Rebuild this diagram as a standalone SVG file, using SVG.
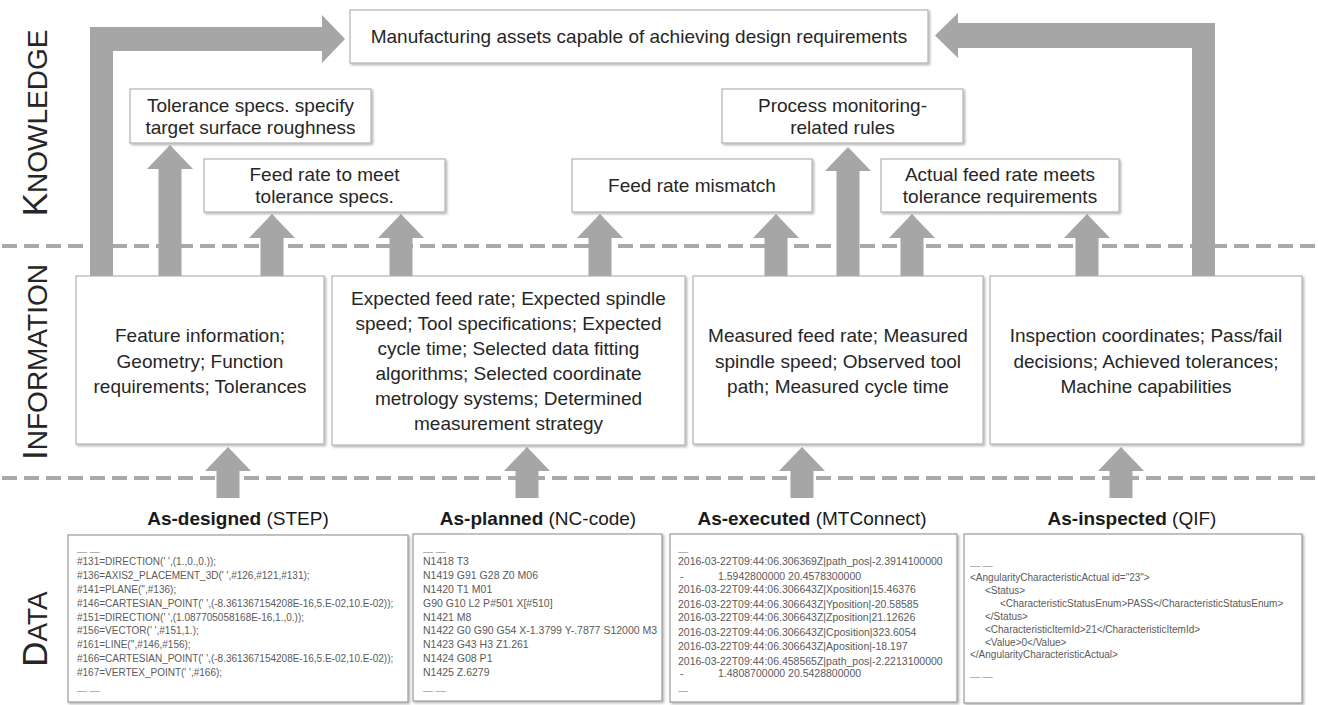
<svg xmlns="http://www.w3.org/2000/svg" width="1318" height="705" viewBox="0 0 1318 705">
<defs>
<filter id="sh" x="-5%" y="-10%" width="112%" height="125%"><feDropShadow dx="1.5" dy="1.5" stdDeviation="1" flood-color="#000" flood-opacity="0.3"/></filter>
</defs>
<style>
.dash{stroke:#a9a9a9;stroke-width:4;stroke-dasharray:15 7;fill:none}
.arr{fill:#a6a6a6}
.box{fill:#fff;stroke:#b3b3b3;stroke-width:1.2;filter:url(#sh)}
.dbox{fill:#fff;stroke:#9a9a9a;stroke-width:1.2;filter:url(#sh)}
.t{font-family:"Liberation Sans",Arial,sans-serif;font-size:19px;fill:#262626;text-anchor:middle}
.lab{font-family:"Liberation Sans",Arial,sans-serif;font-size:19px;fill:#1a1a1a;text-anchor:middle}
.lab .b{font-weight:bold}
.side{font-family:"Liberation Sans",Arial,sans-serif;font-size:35px;fill:#262626;text-anchor:middle}
.side .s{font-size:28px}
.d{font-family:"Liberation Sans",Arial,sans-serif;font-size:10px;fill:#5a5a5a}
.dl{font-family:"Liberation Sans",Arial,sans-serif;font-size:10px;fill:#a0a0a0}
</style>
<rect width="1318" height="705" fill="#fff"/>

<g id="layers">
<line class="dash" x1="2" y1="246" x2="1318" y2="246"/>
<line class="dash" x1="2" y1="478" x2="1318" y2="478"/>
<text class="side" transform="translate(47,123) rotate(-90)">K<tspan class="s">NOWLEDGE</tspan></text>
<text class="side" transform="translate(47,362) rotate(-90)">I<tspan class="s">NFORMATION</tspan></text>
<text class="side" transform="translate(47,629) rotate(-90)">D<tspan class="s">ATA</tspan></text>
</g>

<g id="connectors">
<path class="arr" d="M113,278 V51 H322 V63 L345,39 L322,15 V27 H90 V278 Z"/>
<path class="arr" d="M1192,278 V48 H958 V58 L935,35.5 L958,13 V23 H1215 V278 Z"/>
<path class="arr" d="M158.5,278 V169 H147 L170,145 L193,169 H181.5 V278 Z"/>
<path class="arr" d="M260.5,278 V238 H249 L272,214 L295,238 H283.5 V278 Z"/>
<path class="arr" d="M389.5,278 V238 H378 L401,214 L424,238 H412.5 V278 Z"/>
<path class="arr" d="M588.5,278 V238 H577 L600,214 L623,238 H611.5 V278 Z"/>
<path class="arr" d="M764.5,278 V238 H753 L776,214 L799,238 H787.5 V278 Z"/>
<path class="arr" d="M836.5,278 V171 H825 L848,147 L871,171 H859.5 V278 Z"/>
<path class="arr" d="M900.5,278 V238 H889 L912,214 L935,238 H923.5 V278 Z"/>
<path class="arr" d="M1075.5,278 V238 H1064 L1087,214 L1110,238 H1098.5 V278 Z"/>
<path class="arr" d="M216.5,498 V471 H205 L228,447 L251,471 H239.5 V498 Z"/>
<path class="arr" d="M515.5,498 V471 H504 L527,447 L550,471 H538.5 V498 Z"/>
<path class="arr" d="M790.5,498 V471 H779 L802,447 L825,471 H813.5 V498 Z"/>
<path class="arr" d="M1109.5,498 V471 H1098 L1121,447 L1144,471 H1132.5 V498 Z"/>
</g>

<g id="k-top">
<rect class="box" x="350" y="10" width="578" height="53"/>
<text class="t" x="639" y="43">Manufacturing assets capable of achieving design requirements</text>
</g>
<g id="k-tolerance">
<rect class="box" x="130" y="89" width="241" height="54"/>
<text class="t" x="250.5" y="112">Tolerance specs. specify</text>
<text class="t" x="250.5" y="134">target surface roughness</text>
</g>
<g id="k-feedrate">
<rect class="box" x="204" y="159" width="241" height="53"/>
<text class="t" x="324.5" y="181">Feed rate to meet</text>
<text class="t" x="324.5" y="203">tolerance specs.</text>
</g>
<g id="k-mismatch">
<rect class="box" x="572" y="159" width="240" height="53"/>
<text class="t" x="692" y="192">Feed rate mismatch</text>
</g>
<g id="k-monitoring">
<rect class="box" x="722" y="89" width="241" height="54"/>
<text class="t" x="842.5" y="112">Process monitoring-</text>
<text class="t" x="842.5" y="134">related rules</text>
</g>
<g id="k-actual">
<rect class="box" x="881" y="159" width="238" height="53"/>
<text class="t" x="1000" y="181">Actual feed rate meets</text>
<text class="t" x="1000" y="203">tolerance requirements</text>
</g>

<g id="i-designed">
<rect class="box" x="76" y="276" width="248" height="168"/>
<text class="t" x="200" y="342">Feature information;</text>
<text class="t" x="200" y="367.5">Geometry; Function</text>
<text class="t" x="200" y="393">requirements; Tolerances</text>
</g>
<g id="i-planned">
<rect class="box" x="332" y="276" width="353" height="169"/>
<text class="t" x="508.5" y="304.5">Expected feed rate; Expected spindle</text>
<text class="t" x="508.5" y="329.5">speed; Tool specifications; Expected</text>
<text class="t" x="508.5" y="354.5">cycle time; Selected data fitting</text>
<text class="t" x="508.5" y="379.5">algorithms; Selected coordinate</text>
<text class="t" x="508.5" y="404.5">metrology systems; Determined</text>
<text class="t" x="508.5" y="429.5">measurement strategy</text>
</g>
<g id="i-executed">
<rect class="box" x="693" y="276" width="290" height="168"/>
<text class="t" x="838" y="342">Measured feed rate; Measured</text>
<text class="t" x="838" y="367.5">spindle speed; Observed tool</text>
<text class="t" x="838" y="393">path; Measured cycle time</text>
</g>
<g id="i-inspected">
<rect class="box" x="990" y="276" width="312" height="168"/>
<text class="t" x="1146" y="342">Inspection coordinates; Pass/fail</text>
<text class="t" x="1146" y="367.5">decisions; Achieved tolerances;</text>
<text class="t" x="1146" y="393">Machine capabilities</text>
</g>

<g id="d-designed">
<text class="lab" x="238" y="525"><tspan class="b">As-designed</tspan> (STEP)</text>
<rect class="dbox" x="68" y="535" width="340" height="167"/>
<text class="dl" x="77" y="555">— —</text>
<text class="d" x="77" y="565">#131=DIRECTION(' ',(1.,0.,0.));</text>
<text class="d" x="77" y="579">#136=AXIS2_PLACEMENT_3D(' ',#126,#121,#131);</text>
<text class="d" x="77" y="593">#141=PLANE('',#136);</text>
<text class="d" x="77" y="607">#146=CARTESIAN_POINT(' ',(-8.361367154208E-16,5.E-02,10.E-02));</text>
<text class="d" x="77" y="621">#151=DIRECTION(' ',(1.087705058168E-16,1.,0.));</text>
<text class="d" x="77" y="634">#156=VECTOR(' ',#151,1.);</text>
<text class="d" x="77" y="648">#161=LINE('',#146,#156);</text>
<text class="d" x="77" y="662">#166=CARTESIAN_POINT(' ',(-8.361367154208E-16,5.E-02,10.E-02));</text>
<text class="d" x="77" y="676">#167=VERTEX_POINT(' ',#166);</text>
<text class="dl" x="77" y="694">— —</text>
</g>
<g id="d-planned">
<text class="lab" x="538" y="525"><tspan class="b">As-planned</tspan> (NC-code)</text>
<rect class="dbox" x="413" y="534" width="249" height="167"/>
<text class="dl" x="423" y="555">— —</text>
<text class="d" x="423" y="565" style="font-size:10.5px">N1418 T3</text>
<text class="d" x="423" y="579" style="font-size:10.5px">N1419 G91 G28 Z0 M06</text>
<text class="d" x="423" y="593" style="font-size:10.5px">N1420 T1 M01</text>
<text class="d" x="423" y="607" style="font-size:10.5px">G90 G10 L2 P#501 X[#510]</text>
<text class="d" x="423" y="621" style="font-size:10.5px">N1421 M8</text>
<text class="d" x="423" y="634" style="font-size:10.5px">N1422 G0 G90 G54 X-1.3799 Y-.7877 S12000 M3</text>
<text class="d" x="423" y="648" style="font-size:10.5px">N1423 G43 H3 Z1.261</text>
<text class="d" x="423" y="662" style="font-size:10.5px">N1424 G08 P1</text>
<text class="d" x="423" y="676" style="font-size:10.5px">N1425 Z.6279</text>
<text class="dl" x="423" y="694">— —</text>
</g>
<g id="d-executed">
<text class="lab" x="812" y="525"><tspan class="b">As-executed</tspan> (MTConnect)</text>
<rect class="dbox" x="670" y="534" width="287" height="168"/>
<text class="dl" x="678" y="555">—</text>
<text class="d" x="678" y="565" style="font-size:10.5px">2016-03-22T09:44:06.306369Z|path_pos|-2.3914100000</text>
<text class="d" x="680" y="580" style="font-size:10.5px">-</text>
<text class="d" x="718" y="580" style="font-size:10.5px">1.5942800000 20.4578300000</text>
<text class="d" x="678" y="593" style="font-size:10.5px">2016-03-22T09:44:06.306643Z|Xposition|15.46376</text>
<text class="d" x="678" y="608" style="font-size:10.5px">2016-03-22T09:44:06.306643Z|Yposition|-20.58585</text>
<text class="d" x="678" y="621" style="font-size:10.5px">2016-03-22T09:44:06.306643Z|Zposition|21.12626</text>
<text class="d" x="678" y="636" style="font-size:10.5px">2016-03-22T09:44:06.306643Z|Cposition|323.6054</text>
<text class="d" x="678" y="650" style="font-size:10.5px">2016-03-22T09:44:06.306643Z|Aposition|-18.197</text>
<text class="d" x="678" y="665" style="font-size:10.5px">2016-03-22T09:44:06.458565Z|path_pos|-2.2213100000</text>
<text class="d" x="680" y="677" style="font-size:10.5px">-</text>
<text class="d" x="718" y="677" style="font-size:10.5px">1.4808700000 20.5428800000</text>
<text class="dl" x="678" y="694">—</text>
</g>
<g id="d-inspected">
<text class="lab" x="1132" y="525"><tspan class="b">As-inspected</tspan> (QIF)</text>
<rect class="dbox" x="964" y="534" width="338" height="169"/>
<text class="dl" x="970" y="569">— —</text>
<text class="d" x="970" y="581">&lt;AngularityCharacteristicActual id="23"&gt;</text>
<text class="d" x="985" y="594">&lt;Status&gt;</text>
<text class="d" x="1000" y="607">&lt;CharacteristicStatusEnum&gt;PASS&lt;/CharacteristicStatusEnum&gt;</text>
<text class="d" x="985" y="620">&lt;/Status&gt;</text>
<text class="d" x="985" y="633">&lt;CharacteristicItemId&gt;21&lt;/CharacteristicItemId&gt;</text>
<text class="d" x="985" y="646">&lt;Value&gt;0&lt;/Value&gt;</text>
<text class="d" x="970" y="658">&lt;/AngularityCharacteristicActual&gt;</text>
<text class="dl" x="970" y="680">— —</text>
</g>
</svg>
